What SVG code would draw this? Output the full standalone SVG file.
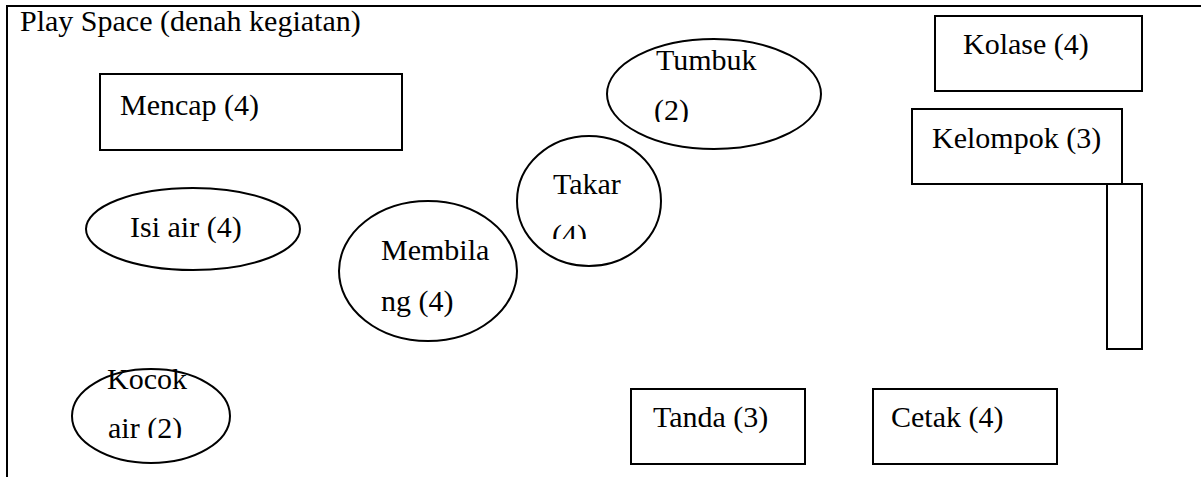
<svg xmlns="http://www.w3.org/2000/svg" width="1201" height="477" viewBox="0 0 1201 477">
<style>
.s{fill:none;stroke:#000;stroke-width:2}
.t{font-family:"Liberation Serif","Times New Roman",serif;font-size:30px;fill:#000}
</style>
<defs>
<clipPath id="c1"><rect x="600" y="40" width="200" height="82"/></clipPath>
<clipPath id="c2"><rect x="530" y="150" width="120" height="89"/></clipPath>
<clipPath id="c3"><rect x="90" y="360" width="130" height="78"/></clipPath>
</defs>
<rect width="1201" height="477" fill="#fff"/>
<g id="frame">
<line class="s" x1="7" y1="6" x2="1201" y2="6"/>
<line class="s" x1="7" y1="5" x2="7" y2="477"/>
<text class="t" x="20" y="31">Play Space (denah kegiatan)</text>
</g>
<g id="mencap"><rect class="s" x="100" y="74" width="302" height="76"/><text class="t" x="120" y="115">Mencap (4)</text></g>
<g id="tumbuk"><ellipse class="s" cx="714" cy="94" rx="107" ry="55"/><g clip-path="url(#c1)"><text class="t" x="656" y="70">Tumbuk</text><text class="t" x="654" y="120">(2)</text></g></g>
<g id="kolase"><rect class="s" x="935" y="16" width="207" height="75"/><text class="t" x="963" y="54">Kolase (4)</text></g>
<g id="kelompok"><rect class="s" x="912" y="109" width="210" height="75"/><text class="t" x="932" y="148">Kelompok (3)</text></g>
<g id="meja"><rect class="s" x="1107" y="184" width="35" height="165"/></g>
<g id="takar"><ellipse class="s" cx="589" cy="201" rx="72" ry="65"/><g clip-path="url(#c2)"><text class="t" x="553" y="194">Takar</text><text class="t" x="552" y="245">(4)</text></g></g>
<g id="isiair"><ellipse class="s" cx="193" cy="229" rx="107" ry="41"/><text class="t" x="130" y="237">Isi air (4)</text></g>
<g id="membilang"><ellipse class="s" cx="428" cy="271" rx="89" ry="70"/><text class="t" x="381" y="260">Membila</text><text class="t" x="381" y="311">ng (4)</text></g>
<g id="kocok"><ellipse class="s" cx="151" cy="416" rx="79" ry="47"/><g clip-path="url(#c3)"><text class="t" x="107" y="389">Kocok</text><text class="t" x="108" y="438">air (2)</text></g></g>
<g id="tanda"><rect class="s" x="631" y="389" width="174" height="75"/><text class="t" x="653" y="427">Tanda (3)</text></g>
<g id="cetak"><rect class="s" x="873" y="389" width="184" height="75"/><text class="t" x="891" y="427">Cetak (4)</text></g>
<g id="connectors"/>
</svg>
